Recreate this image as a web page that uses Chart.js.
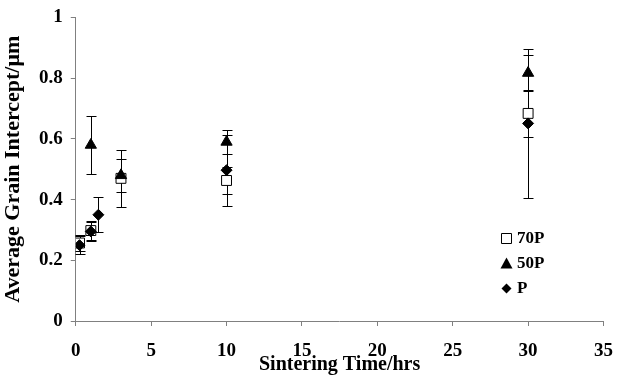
<!DOCTYPE html>
<html>
<head>
<meta charset="utf-8">
<script src="https://cdn.jsdelivr.net/npm/chart.js@4/dist/chart.umd.min.js"></script>
<style>
  html, body { margin: 0; padding: 0; background: #fff; }
  #wrap { width: 620px; height: 375px; }
</style>
</head>
<body>
<div id="wrap"><canvas id="grain-chart"></canvas></div>
<script>
const xTicks = [0, 5, 10, 15, 20, 25, 30, 35]
const yTicks = [0, 0.2, 0.4, 0.6, 0.8, 1]

const times70 = [0.25, 1, 3, 10, 30]
const grain70 = [0.257, 0.298, 0.47, 0.463, 0.684]
const err70 = [0.028, 0.03, 0.094, 0.043, 0.077]

const times50 = [1, 3, 10, 30]
const grain50 = [0.58, 0.48, 0.59, 0.817]
const err50 = [0.095, 0.055, 0.04, 0.06]

const timesP = [0.25, 1, 1.5, 10, 30]
const grainP = [0.25, 0.295, 0.35, 0.497, 0.651]
const errP = [0.03, 0.03, 0.058, 0.117, 0.245]

const serif = '"Liberation Serif", "Times New Roman", serif'

function points(xs, ys) {
  return xs.map((x, i) => ({ x: x, y: ys[i] }))
}

const errorBars = {
  id: 'errorBars',
  beforeDatasetsDraw(chart) {
    const ctx = chart.ctx
    const xs = chart.scales.x
    const ys = chart.scales.y
    ctx.save()
    ctx.strokeStyle = '#000'
    ctx.lineWidth = 1
    chart.data.datasets.forEach(ds => {
      ds.data.forEach((p, i) => {
        const e = ds.errors[i]
        const px = Math.round(xs.getPixelForValue(p.x)) + 0.5
        const top = Math.round(ys.getPixelForValue(p.y + e)) + 0.5
        const bot = Math.round(ys.getPixelForValue(p.y - e)) + 0.5
        ctx.beginPath()
        ctx.moveTo(px, top)
        ctx.lineTo(px, bot)
        ctx.moveTo(px - 5, top)
        ctx.lineTo(px + 5, top)
        ctx.moveTo(px - 5, bot)
        ctx.lineTo(px + 5, bot)
        ctx.stroke()
      })
    })
    ctx.restore()
  }
}

function marker(ctx, style, x, y) {
  ctx.beginPath()
  if (style === 'rect') {
    ctx.rect(x - 5, y - 5, 10, 10)
    ctx.fillStyle = '#fff'
    ctx.fill()
    ctx.strokeStyle = '#000'
    ctx.lineWidth = 1
    ctx.stroke()
    return
  }
  if (style === 'triangle') {
    ctx.moveTo(x, y - 6)
    ctx.lineTo(x + 6, y + 5)
    ctx.lineTo(x - 6, y + 5)
  } else {
    ctx.moveTo(x, y - 5)
    ctx.lineTo(x + 5, y)
    ctx.lineTo(x, y + 5)
    ctx.lineTo(x - 5, y)
  }
  ctx.closePath()
  ctx.fillStyle = '#000'
  ctx.fill()
}

const sideLegend = {
  id: 'sideLegend',
  afterDraw(chart) {
    const ctx = chart.ctx
    ctx.save()
    ctx.font = 'bold 17px ' + serif
    ctx.textBaseline = 'middle'
    chart.data.datasets.forEach((ds, i) => {
      const y = 238 + i * 25
      marker(ctx, ds.pointStyle, 506.5, y + 0.5)
      ctx.fillStyle = '#000'
      ctx.fillText(ds.label, 517, y + 1)
    })
    ctx.restore()
  }
}

new Chart(document.getElementById('grain-chart'), {
  type: 'scatter',
  data: {
    datasets: [
      {
        label: '70P', data: points(times70, grain70), errors: err70,
        pointStyle: 'rect', pointRadius: 7, backgroundColor: '#fff',
        borderColor: '#000', borderWidth: 1, order: 3
      },
      {
        label: '50P', data: points(times50, grain50), errors: err50,
        pointStyle: 'triangle', pointRadius: 6.5, backgroundColor: '#000',
        borderColor: '#000', borderWidth: 1, order: 2
      },
      {
        label: 'P', data: points(timesP, grainP), errors: errP,
        pointStyle: 'rectRot', pointRadius: 5.5, backgroundColor: '#000',
        borderColor: '#000', borderWidth: 1, order: 1
      }
    ]
  },
  options: {
    responsive: true,
    maintainAspectRatio: false,
    animation: false,
    layout: { padding: { top: 8, right: 0, left: 2, bottom: 0 } },
    plugins: {
      legend: { display: false },
      tooltip: { enabled: false }
    },
    scales: {
      x: {
        type: 'linear', min: 0, max: 35,
        afterBuildTicks: axis => { axis.ticks = xTicks.map(v => ({ value: v })) },
        grid: { drawOnChartArea: false, drawTicks: true, tickLength: 5, color: '#808080' },
        border: { display: true, color: '#808080', width: 1 },
        ticks: { color: '#000', font: { family: serif, size: 19, weight: 'bold', lineHeight: '36px' }, padding: 7, maxRotation: 0, callback: v => String(v) },
        title: { display: true, text: 'Sintering Time/hrs', color: '#000', font: { family: serif, size: 20, weight: 'bold', lineHeight: 1 }, padding: { top: -21, bottom: 0 } }
      },
      y: {
        type: 'linear', min: 0, max: 1,
        afterBuildTicks: axis => { axis.ticks = yTicks.map(v => ({ value: v })) },
        grid: { drawOnChartArea: false, drawTicks: true, tickLength: 5, color: '#808080' },
        border: { display: true, color: '#808080', width: 1 },
        ticks: { color: '#000', font: { family: serif, size: 19, weight: 'bold', lineHeight: 1 }, padding: 8, callback: v => String(v) },
        title: { display: true, text: 'Average Grain Intercept/\u03bcm', color: '#000', font: { family: serif, size: 22, weight: 'bold', lineHeight: 1 }, padding: { top: 0, bottom: 7 } }
      }
    }
  },
  plugins: [errorBars, sideLegend]
})
</script>
</body>
</html>
